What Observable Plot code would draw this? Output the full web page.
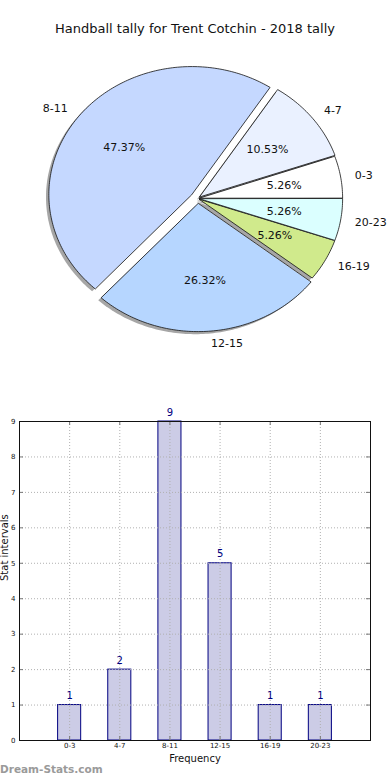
<!DOCTYPE html>
<html>
<head>
<meta charset="utf-8">
<script src="https://cdn.jsdelivr.net/npm/d3@7"></script>
<script src="https://cdn.jsdelivr.net/npm/@observablehq/plot@0.6"></script>
<style>
  html, body { margin: 0; padding: 0; background: #fff; }
  body { width: 390px; height: 780px; position: relative; overflow: hidden; font-family: "DejaVu Sans", sans-serif; }
  #title { position: absolute; top: 21px; left: 0; width: 390px; text-align: center; font-size: 13px; color: #111; }
  #pie { position: absolute; top: 45px; left: 0; }
  #bar { position: absolute; top: 400px; left: 0; }
  #wm { position: absolute; left: 0; top: 763px; font-size: 10.5px; font-weight: bold; color: #9a9a9a; }
</style>
</head>
<body>
<div id="title">Handball tally for Trent Cotchin - 2018 tally</div>
<div id="pie"></div>
<div id="bar"></div>
<div id="wm">Dream-Stats.com</div>
<script>
const categories = ["0-3", "4-7", "8-11", "12-15", "16-19", "20-23"];
const counts = [1, 2, 9, 5, 1, 1];
const sliceColors = ["#ffffff", "#eaf1ff", "#c5d8ff", "#b6d6ff", "#d0ea8c", "#dbffff"];
const explode = [0.015, 0.02, 0.05, 0.04, 0.015, 0.015];
const yTicks = [0, 1, 2, 3, 4, 5, 6, 7, 8, 9];

// ---- pie geometry (matplotlib style: start at 0°, counter-clockwise) ----
const total = d3.sum(counts);
const ends = d3.cumsum(counts).map(c => 360 * c / total);
const rad = a => a * Math.PI / 180;
const slices = counts.map((c, i) => {
  const a0 = i === 0 ? 0 : ends[i - 1];
  const a1 = ends[i];
  const mid = (a0 + a1) / 2;
  const ox = explode[i] * Math.cos(rad(mid));
  const oy = explode[i] * Math.sin(rad(mid));
  return {i, a0, a1, mid, ox, oy, cat: categories[i], color: sliceColors[i],
          pct: (100 * c / total).toFixed(2) + "%"};
});
function polyPoints(dx, dy) {
  const pts = [];
  for (const s of slices) {
    pts.push({key: s.i, color: s.color, x: s.ox + dx, y: s.oy + dy});
    const n = Math.max(2, Math.ceil(s.a1 - s.a0));
    for (let k = 0; k <= n; k++) {
      const t = rad(s.a0 + (s.a1 - s.a0) * k / n);
      pts.push({key: s.i, color: s.color, x: s.ox + dx + Math.cos(t), y: s.oy + dy + Math.sin(t)});
    }
  }
  return pts;
}
const slicePts = polyPoints(0, 0);
const shadowPts = polyPoints(-0.02, -0.02);
const labels = slices.map(s => ({...s, lx: s.ox + 1.1 * Math.cos(rad(s.mid)), ly: s.oy + 1.1 * Math.sin(rad(s.mid)),
  px: s.ox + 0.6 * Math.cos(rad(s.mid)), py: s.oy + 0.6 * Math.sin(rad(s.mid))}));

const cx = 197, cy = 198 - 45, rx = 143, ry = 128, pieH = 330;
const pie = Plot.plot({
  width: 390, height: pieH, margin: 0,
  style: {fontFamily: "DejaVu Sans", fontSize: "11px", background: "transparent"},
  x: {domain: [-cx / rx, (390 - cx) / rx], axis: null},
  y: {domain: [(cy - pieH) / ry, cy / ry], axis: null},
  color: {type: "identity"},
  marks: [
    Plot.line(shadowPts, {x: "x", y: "y", z: "key", fill: "#4d4d4d", fillOpacity: 0.5, stroke: "none", curve: "linear-closed"}),
    Plot.line(slicePts, {x: "x", y: "y", z: "key", fill: "color", stroke: "#111", strokeWidth: 0.8, curve: "linear-closed"}),
    Plot.text(labels.filter(d => d.lx < 0), {x: "lx", y: "ly", text: "cat", textAnchor: "end", fill: "#111", fontSize: 11}),
    Plot.text(labels.filter(d => d.lx >= 0), {x: "lx", y: "ly", text: "cat", textAnchor: "start", fill: "#111", fontSize: 11}),
    Plot.text(labels, {x: "px", y: "py", text: "pct", fill: "#111", fontSize: 11})
  ]
});
document.getElementById("pie").appendChild(pie);

// ---- bar chart ----
const barData = counts.map((v, i) => ({i, v, cat: categories[i]}));
const xIdx = d3.range(categories.length);
const tickLenX = 4 / 50.14, tickLenY = 4 / 35.44;
const bar = Plot.plot({
  width: 390, height: 380,
  marginTop: 21, marginBottom: 40, marginLeft: 19, marginRight: 20,
  style: {fontFamily: "DejaVu Sans", background: "transparent", color: "#111"},
  x: {domain: [-1, 6]},
  y: {domain: [0, 9]},
  marks: [
    Plot.rect(barData, {x1: d => d.i - 0.23, x2: d => d.i + 0.23, y1: 0, y2: "v", fill: "#cccce6", stroke: "#000080", strokeWidth: 1}),
    Plot.ruleY(yTicks.slice(1, -1), {stroke: "#b0b0b0", strokeDasharray: "1,2"}),
    Plot.ruleX(xIdx, {stroke: "#b0b0b0", strokeDasharray: "1,2"}),
    Plot.ruleY(yTicks, {x1: -1, x2: -1 + tickLenX, stroke: "#777"}),
    Plot.ruleY(yTicks, {x1: 6 - tickLenX, x2: 6, stroke: "#777"}),
    Plot.ruleX(xIdx, {y1: 0, y2: tickLenY, stroke: "#777"}),
    Plot.ruleX(xIdx, {y1: 9 - tickLenY, y2: 9, stroke: "#777"}),
    Plot.frame({stroke: "#111"}),
    Plot.axisY(yTicks, {tickSize: 0, tickPadding: 4, fontSize: 7, label: null}),
    Plot.axisX(xIdx, {tickSize: 0, tickPadding: 3, fontSize: 7, tickFormat: i => categories[i], label: null}),
    Plot.text(barData, {x: "i", y: "v", text: d => String(d.v), dy: -9, fill: "#000080", fontSize: 10}),
    Plot.text(["Frequency"], {frameAnchor: "bottom", dy: 21, fontSize: 10, fill: "#111"}),
    Plot.text(["Stat intervals"], {frameAnchor: "left", dx: -15, rotate: -90, fontSize: 10, fill: "#111"})
  ]
});
document.getElementById("bar").appendChild(bar);
</script>
</body>
</html>
